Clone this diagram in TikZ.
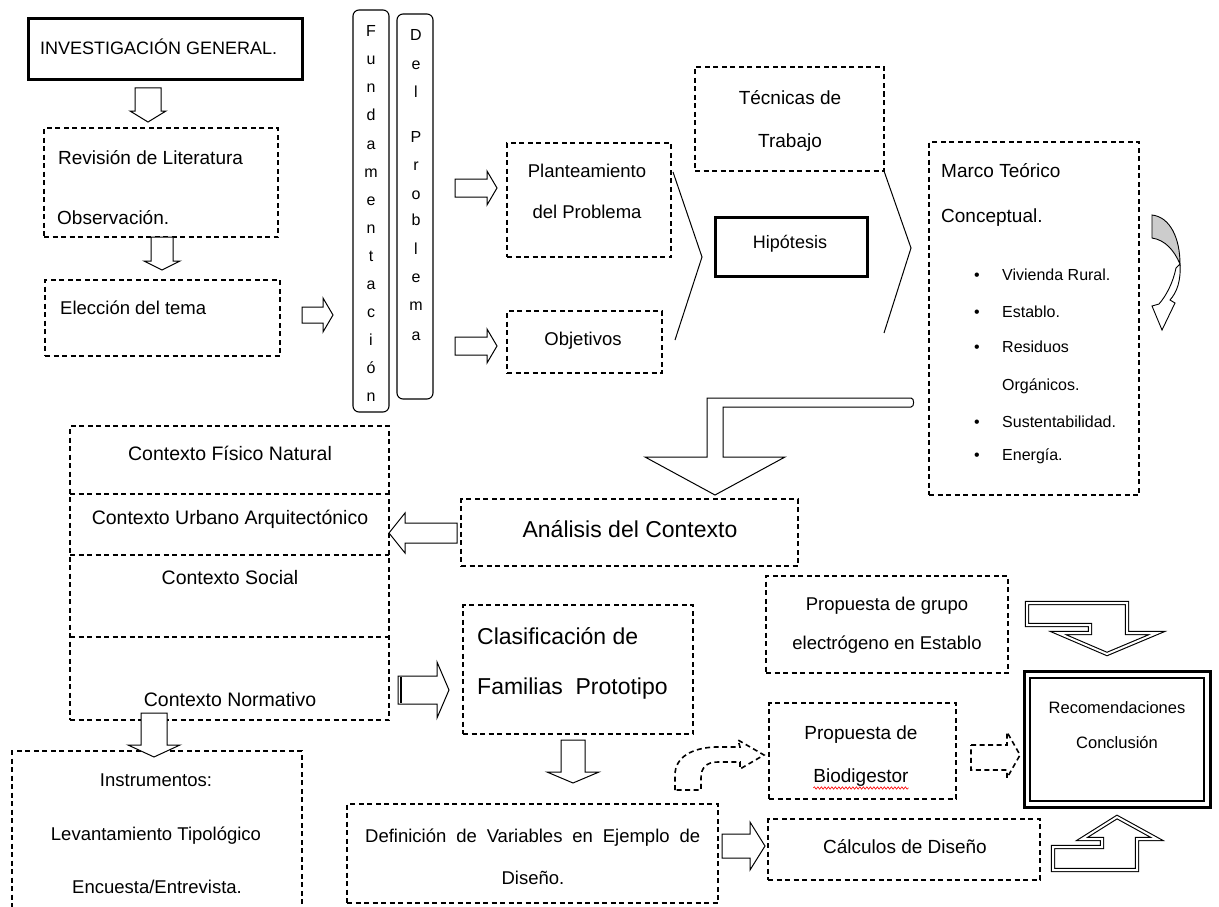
\documentclass[tikz,border=0pt]{standalone}
\usepackage{fontspec}
\setmainfont{Liberation Sans}
\usetikzlibrary{decorations.pathmorphing}
\newcommand\bx[6]{\node[#2, anchor=north west, minimum width={#5-#3}, minimum height={#6-#4}] (#1) at (#3,#4) {};}
\newcommand\DArrow[6]{\draw[barrow] ({#1-#4},#2) -- ({#1+#4},#2) -- ({#1+#4},{#3-#6}) -- ({#1+#5},{#3-#6}) -- (#1,#3) -- ({#1-#5},{#3-#6}) -- ({#1-#4},{#3-#6}) -- cycle;}
\newcommand\RArrow[6]{\draw[barrow] (#2,{#1-#4}) -- (#2,{#1+#4}) -- ({#3-#6},{#1+#4}) -- ({#3-#6},{#1+#5}) -- (#3,#1) -- ({#3-#6},{#1-#5}) -- ({#3-#6},{#1-#4}) -- cycle;}
\newcommand\LArrow[6]{\draw[barrow] (#2,{#1-#4}) -- (#2,{#1+#4}) -- ({#3+#6},{#1+#4}) -- ({#3+#6},{#1+#5}) -- (#3,#1) -- ({#3+#6},{#1-#5}) -- ({#3+#6},{#1-#4}) -- cycle;}
\tikzset{
  dbox/.style={draw, dash pattern=on 5pt off 3.5pt, line width=1.1pt, inner sep=0pt, outer sep=0pt},
  dline/.style={dash pattern=on 5pt off 3.5pt, line width=1.1pt},
  tbox/.style={draw, line width=3pt, inner sep=0pt, outer sep=0pt},
  rbox/.style={draw, rounded corners=6pt, line width=1.1pt, inner sep=0pt, outer sep=0pt},
  barrow/.style={draw, line width=1pt, line join=miter, fill=white},
  dblarrow/.style={draw, line width=1.1pt, double=white, double distance=2pt, line join=miter},
  fs/.style={font=\fontsize{#1}{#1}\selectfont, inner sep=0pt, anchor=mid, yshift=-5pt},
}
\begin{document}
\begin{tikzpicture}[x=1pt, y=-1pt]
\useasboundingbox (0,0) rectangle (1219,907);

% ---------- boxes ----------
\bx{inv}{tbox}{28.5}{19}{302}{79.5}
\bx{rev}{dbox}{44}{128}{278}{237}
\bx{elec}{dbox}{45}{280}{280}{356}
\bx{fund}{rbox}{353}{10}{389}{412}
\bx{delp}{rbox}{397}{14}{433}{399}
\bx{plan}{dbox}{507}{143}{671}{257}
\bx{obj}{dbox}{507}{311}{662}{373}
\bx{tec}{dbox}{695}{67}{884}{171}
\bx{hip}{tbox}{715}{217}{867}{276}
\bx{marco}{dbox}{929}{142}{1139}{495}
\bx{anal}{dbox}{461}{499}{798}{566}
\bx{ctx}{dbox}{70}{426}{389}{720}
\bx{clas}{dbox}{463}{605}{693}{734}
\bx{def}{dbox}{347}{804}{718}{903}
\bx{calc}{dbox}{768}{819}{1040}{880}
\bx{grupo}{dbox}{766}{576}{1008}{673}
\bx{bio}{dbox}{769}{703}{956}{799}
\bx{rec}{tbox}{1024}{671}{1210}{807}
\bx{recin}{draw, line width=2.5pt, inner sep=0pt, outer sep=0pt}{1030}{678}{1204}{801}
\bx{instr}{dbox}{12}{751}{302}{920}

\draw[dline] (ctx.west |- 0,494) -- (ctx.east |- 0,494);
\draw[dline] (ctx.west |- 0,555) -- (ctx.east |- 0,555);
\draw[dline] (ctx.west |- 0,637) -- (ctx.east |- 0,637);

% ---------- block arrows ----------
\DArrow{148}{88}{122}{13}{18}{11}
\DArrow{162}{237}{270}{11}{18}{9}
\RArrow{315}{302}{333}{8}{17}{10}
\RArrow{188}{455}{497}{9}{17}{10}
\RArrow{346}{455}{497}{9}{17}{10}
\LArrow{533}{457}{389}{10}{20}{16}
\RArrow{690}{398}{449}{14}{28}{12}
\draw[line width=2.5pt] (401,677) -- (401,703);
\DArrow{573}{740}{783}{12}{26}{11}
\RArrow{846}{722}{765}{12}{24}{15}
\DArrow{154}{713}{757}{13}{26}{12}

% ---------- chevrons ----------
\coordinate (c1a) at (673,172); \coordinate (c1b) at (702,257); \coordinate (c1c) at (675,340);
\draw[line width=1pt] (c1a) -- (c1b) -- (c1c);
\coordinate (c2b) at (911,248); \coordinate (c2c) at (884,333);
\draw[line width=1pt] (tec.south east) -- (c2b) -- (c2c);

% ---------- big L arrow ----------
\draw[line width=1pt, line join=miter, fill=white]
  (911,398) -- (707,398) -- (707,457) -- (645,457) -- (715,495) -- (785,457) -- (723,457) -- (723,407) -- (911,407)
  .. controls (914.5,407) and (914.5,398) .. (911,398) -- cycle;

% ---------- curved arrow near Marco ----------
\draw[line width=0.9pt, fill=gray!40]
  (1152,215) .. controls (1170,217) and (1180,238) .. (1180,264)
  .. controls (1174,250) and (1165,240) .. (1152,238) -- cycle;
\draw[line width=0.9pt, fill=white]
  (1180,264) .. controls (1181,281) and (1177,292) .. (1170,300) -- (1175,303) -- (1162,330) -- (1152,306)
  -- (1159,304) .. controls (1166,296) and (1173,283) .. (1176,268) -- cycle;

% ---------- dashed arrows ----------
\draw[dline, line width=1.6pt, line join=miter]
  (675,790) -- (675,775) .. controls (675,757) and (692,748) .. (715,747) -- (740,747) -- (738,740)
  -- (764,755) -- (740,769) -- (740,762) -- (718,762) .. controls (706,762) and (701,768) .. (701,778)
  -- (701,790) -- cycle;
\draw[dline, line width=1.6pt, line join=miter]
  (971,745) -- (1007,745) -- (1007,732) -- (1020,755) -- (1007,778) -- (1007,770) -- (971,770) -- cycle;

% ---------- double-line bent arrows ----------
\draw[dblarrow] (1027,603) -- (1127,603) -- (1127,633) -- (1157,633) -- (1107,654) -- (1058,633)
  -- (1090,633) -- (1090,625) -- (1027,625) -- cycle;
\draw[dblarrow] (1117,817) -- (1157,839) -- (1137,839) -- (1137,870) -- (1053,870) -- (1053,847)
  -- (1102,847) -- (1102,839) -- (1082,839) -- cycle;

% ---------- texts ----------
\node[fs=18, anchor=mid west] (tinv) at (40,47) {INVESTIGACIÓN GENERAL.};
\node[fs=19, anchor=mid west] (trev1) at (58,157) {Revisión de Literatura};
\node[fs=19, anchor=mid west] (trev2) at (57,217) {Observación.};
\node[fs=18.5, anchor=mid west] (telec) at (60,307) {Elección del tema};

\foreach \l [count=\i] in {F,u,n,d,a,m,e,n,t,a,c,i,ó,n}
  \node[fs=16] (fu\i) at (371,{29+28.1*(\i-1)}) {\l};
\foreach \l/\yy [count=\i] in {D/33,e/62,l/90,P/135,r/163,o/192,b/218,l/247,e/275,m/303,a/333}
  \node[fs=16] (dp\i) at (416,\yy) {\l};

\node[fs=18.5] (tplan1) at (587,170) {Planteamiento};
\node[fs=18.5] (tplan2) at (587,211) {del Problema};
\node[fs=18.5] (tobj) at (583,338) {Objetivos};
\node[fs=19] (ttec1) at (790,97) {Técnicas de};
\node[fs=19] (ttec2) at (790,140) {Trabajo};
\node[fs=18] (thip) at (790,241) {Hipótesis};

\node[fs=19, anchor=mid west] (tmar1) at (941,170) {Marco Teórico};
\node[fs=19, anchor=mid west] (tmar2) at (941,215) {Conceptual.};
\foreach \t/\yy/\b [count=\i] in {Vivienda Rural./273/1,Establo./310/1,Residuos/345/1,Orgánicos./383/0,Sustentabilidad./420/1,Energía./453/1}{
  \node[fs=16, anchor=mid west] (tm\i) at (1002,\yy) {\t};
  \ifnum\b=1 \node[fs=16] (bu\i) at (977,\yy) {•};\fi
}

\node[fs=19.5] (tc1) at (230,453) {Contexto Físico Natural};
\node[fs=19.5] (tc2) at (230,517) {Contexto Urbano Arquitectónico};
\node[fs=19.5] (tc3) at (230,577) {Contexto Social};
\node[fs=19.5] (tc4) at (230,699) {Contexto Normativo};

\node[fs=23] (tanal) at (630,530) {Análisis del Contexto};
\node[fs=23, anchor=mid west] (tclas1) at (477,637) {Clasificación de};
\node[fs=23, anchor=mid west] (tclas2) at (477,687) {Familias\ \ Prototipo};

\node[fs=18.5, anchor=mid west] (tdef1) at (365,835) {\makebox[335pt][s]{Definición de Variables en Ejemplo de}};
\node[fs=18.5] (tdef2) at (533,877) {Diseño.};

\node[fs=18.5] (tgr1) at (887,603) {Propuesta de grupo};
\node[fs=18.5] (tgr2) at (887,642) {electrógeno en Establo};
\node[fs=19] (tbio1) at (861,732) {Propuesta de};
\node[fs=19] (tbio2) at (861,775) {Biodigestor};
\draw[red, line width=0.6pt, decorate, decoration={snake, amplitude=1.2pt, segment length=3.5pt}]
  (tbio2.south west |- 0,788) -- (tbio2.south east |- 0,788);
\node[fs=19] (tcalc) at (905,846) {Cálculos de Diseño};

\node[fs=16.5] (trec1) at (1117,706) {Recomendaciones};
\node[fs=16.5] (trec2) at (1117,741) {Conclusión};

\node[fs=18.5] (tins1) at (156,779) {Instrumentos:};
\node[fs=18.5] (tins2) at (156,833) {Levantamiento Tipológico};
\node[fs=18.5] (tins3) at (157,886) {Encuesta/Entrevista.};
\end{tikzpicture}
\end{document}
